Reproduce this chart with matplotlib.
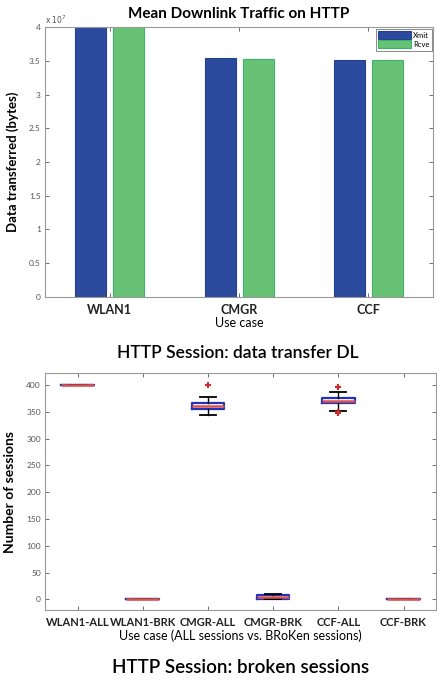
import numpy as np
import matplotlib.pyplot as plt
from matplotlib.ticker import FuncFormatter

plt.rcParams['font.family'] = ['Lato', 'DejaVu Sans']

# --- data: mean downlink traffic (bytes)
cases = ["WLAN1", "CMGR", "CCF"]
xmit = [4.2e7, 3.54e7, 3.515e7]
rcve = [4.2e7, 3.53e7, 3.515e7]

# --- data: number of sessions (box stats)
box_labels = ["WLAN1-ALL", "WLAN1-BRK", "CMGR-ALL", "CMGR-BRK", "CCF-ALL", "CCF-BRK"]
med = [400, 0, 360, 5, 371, 0]
q1 = [400, 0, 355, 1, 366, 0]
q3 = [400, 0, 367, 9, 376, 0]
whislo = [400, 0, 344, 0, 352, 0]
whishi = [400, 0, 377, 10, 386, 0]
fliers = [[], [], [400], [], [396, 347, 349], []]

gray = '#555555'
fig = plt.figure(figsize=(4.37, 6.81), dpi=100)

# ---------------- top: bar chart
ax1 = fig.add_axes([0.103, 0.564, 0.888, 0.396])
x = np.arange(1, len(cases) + 1)
w = 0.24
ax1.bar(x - 0.147, xmit, w, color='#2d4b9e', edgecolor='#24408f', lw=0.8, label='Xmit')
ax1.bar(x + 0.147, rcve, w, color='#67c276', edgecolor='#3db368', lw=0.8, label='Rcve')
ax1.set_xlim(0.5, 3.5)
ax1.set_ylim(0, 4e7)
ax1.set_yticks(np.arange(0, 4.01e7, 0.5e7))
ax1.yaxis.set_major_formatter(FuncFormatter(lambda v, p: '%g' % (v / 1e7)))
ax1.set_xticks(x)
ax1.set_xticklabels(cases, fontsize=9, fontweight='bold', color='#222222')
ax1.text(0.0, 1.012, r'x 10$^7$', transform=ax1.transAxes, fontsize=5.5, color=gray,
         family='DejaVu Sans')
ax1.set_xlabel("Use case", fontsize=9, labelpad=1)
ax1.set_ylabel("Data transferred (bytes)", fontsize=9.5, fontweight='bold', labelpad=7)
ax1.set_title("Mean Downlink Traffic on HTTP", fontsize=11, fontweight='bold', pad=7)
leg = ax1.legend(loc='upper right', fontsize=5.5, handlelength=4.2, handleheight=1.2,
                 borderpad=0.3, labelspacing=0.2, handletextpad=0.3, fancybox=False,
                 edgecolor=gray, borderaxespad=0.2)
leg.get_frame().set_linewidth(0.6)
fig.text(0.545, 0.475, "HTTP Session: data transfer DL", ha='center', fontsize=12.5,
         fontweight='semibold')

# ---------------- bottom: box plot
ax2 = fig.add_axes([0.103, 0.104, 0.895, 0.348])
stats = []
for i in range(len(box_labels)):
    stats.append(dict(label=box_labels[i], med=med[i], q1=q1[i], q3=q3[i],
                      whislo=whislo[i], whishi=whishi[i], fliers=fliers[i]))
ax2.bxp(stats, positions=np.arange(1, 7), widths=0.5, showfliers=True,
        boxprops=dict(color='#2233bb', lw=1.6),
        medianprops=dict(color='#d9534f', lw=1.8),
        whiskerprops=dict(color='black', lw=1.0),
        capprops=dict(color='black', lw=1.3),
        flierprops=dict(marker='+', markeredgecolor='#d62728', markersize=4, mew=1.5))
ax2.set_xlim(0.5, 6.5)
ax2.set_ylim(-20, 422)
ax2.set_yticks(np.arange(0, 401, 50))
ax2.set_xticklabels(box_labels, fontsize=8, fontweight='bold', color='#222222')
ax2.set_xlabel("Use case (ALL sessions vs. BRoKen sessions)", fontsize=9, labelpad=1)
ax2.set_ylabel("Number of sessions", fontsize=10, fontweight='bold', labelpad=7)
fig.text(0.55, 0.012, "HTTP Session: broken sessions", ha='center', fontsize=13.5,
         fontweight='semibold')

for ax in (ax1, ax2):
    ax.tick_params(direction='in', top=True, right=True, length=3, width=0.6, color=gray)
    ax.tick_params(axis='y', labelsize=6, labelcolor=gray, pad=3)
    ax.tick_params(axis='x', pad=5)
    for s in ax.spines.values():
        s.set_color('#999999')
        s.set_linewidth(0.8)

fig.savefig("out.png", dpi=100)
